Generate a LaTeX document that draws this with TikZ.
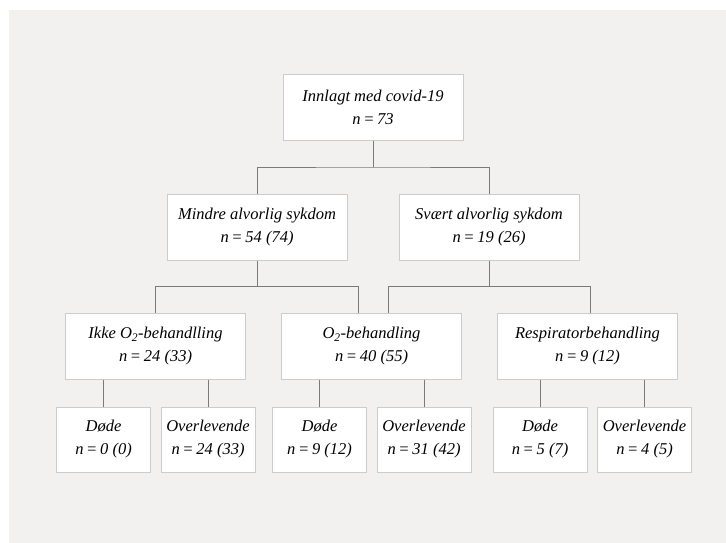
\documentclass[tikz,border=0pt]{standalone}
\usepackage{tikz}
\usepackage{fontspec}
\setmainfont{Liberation Serif}
\definecolor{bakgrunn}{HTML}{F2F1EF}
\definecolor{ramme}{HTML}{CCCCCC}
\definecolor{strek}{HTML}{7A7A7A}

\begin{document}
\begin{tikzpicture}[x=1pt,y=-1pt,
    boks/.style={draw=ramme, line width=1pt, fill=white, align=center,
        minimum width=180pt, minimum height=66pt, inner sep=0pt,
        font=\fontsize{16.5}{23}\selectfont\itshape},
    liten/.style={boks, minimum width=94pt, minimum height=65pt},
    linje/.style={draw=strek, line width=0.9pt}]

\useasboundingbox (0,0) rectangle (726,543);
\fill[bakgrunn] (9,10) rectangle (726,543);  %bakgrunn

\node[boks] (innlagt) at (373,107.5) {Innlagt med covid-19\\ n\,=\,73};
\node[boks] (mindre) at (257,227) {Mindre alvorlig sykdom\\ n\,=\,54 (74)};
\node[boks] (svaert) at (489,227) {Svært alvorlig sykdom\\ n\,=\,19 (26)};

\node[boks] (ikke) at (155.5,346) {Ikke O\textsubscript{2}-behandlling\\ n\,=\,24 (33)};
\node[boks] (oksygen) at (371.5,346) {O\textsubscript{2}-behandling\\ n\,=\,40 (55)};
\node[boks] (resp) at (587.5,346) {Respiratorbehandling\\ n\,=\,9 (12)};

\node[liten] (dode1) at (103.5,439.5) {Døde\\ n\,=\,0 (0)};
\node[liten] (over1) at (208,439.5) {Overlevende\\ n\,=\,24 (33)};
\node[liten] (dode2) at (319.5,439.5) {Døde\\ n\,=\,9 (12)};
\node[liten] (over2) at (424,439.5) {Overlevende\\ n\,=\,31 (42)};
\node[liten] (dode3) at (540,439.5) {Døde\\ n\,=\,5 (7)};
\node[liten] (over3) at (644.5,439.5) {Overlevende\\ n\,=\,4 (5)};

% forgreninger
\path[linje] (innlagt.south) -- ++(0,26) coordinate (g1);
\path[linje] (mindre.north) |- (g1) -| (svaert.north);

\path[linje] (mindre.south) -- ++(0,26) coordinate (g2);
\path[linje] (ikke.north) |- (g2) -| ([xshift=-13.5pt]oksygen.north);
\path[linje] (svaert.south) -- ++(0,26) coordinate (g3);
\path[linje] ([xshift=16.5pt]oksygen.north) |- (g3) -| ([xshift=2.5pt]resp.north);

\path[linje] (dode1.north) -- (dode1.north |- ikke.south);
\path[linje] (over1.north) -- (over1.north |- ikke.south);
\path[linje] (dode2.north) -- (dode2.north |- oksygen.south);
\path[linje] (over2.north) -- (over2.north |- oksygen.south);
\path[linje] (dode3.north) -- (dode3.north |- resp.south);
\path[linje] (over3.north) -- (over3.north |- resp.south);

\end{tikzpicture}
\end{document}
